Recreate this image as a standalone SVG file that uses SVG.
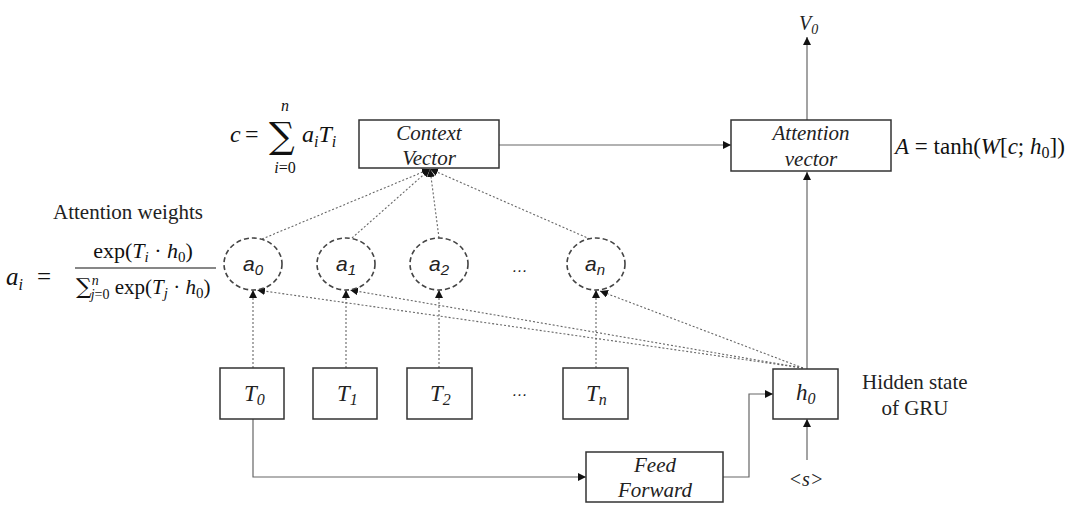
<svg xmlns="http://www.w3.org/2000/svg" width="1082" height="521" viewBox="0 0 1082 521">
<defs>
<marker id="arr" viewBox="0 0 10 10" refX="10" refY="5" markerWidth="8" markerHeight="8" markerUnits="userSpaceOnUse" orient="auto">
<path d="M0,0 L10,5 L0,10 z" fill="#111"/>
</marker>
</defs>
<style>
.box{fill:#fff;stroke:#333;stroke-width:1.5}
.circ{fill:#fff;stroke:#444;stroke-width:1.6;stroke-dasharray:5 3}
.solid{fill:none;stroke:#666;stroke-width:1.2}
.dot{fill:none;stroke:#666;stroke-width:1.1;stroke-dasharray:2 2}
.lbl{font-family:"Liberation Serif",serif;font-style:italic;fill:#222}
.sans{font-family:"Liberation Sans",sans-serif;font-style:italic;fill:#222}
.txt{font-family:"Liberation Serif",serif;fill:#222}
.math{font-family:"Liberation Serif",serif;fill:#111}
.sig{font-family:"DejaVu Serif",serif;font-style:normal}
</style>
<rect width="1082" height="521" fill="#fff"/>

<g id="connectors">
<line class="solid" x1="499" y1="145" x2="731" y2="145" marker-end="url(#arr)"/>
<line class="solid" x1="807" y1="120" x2="807" y2="37" marker-end="url(#arr)"/>
<line class="solid" x1="807" y1="369" x2="807" y2="172" marker-end="url(#arr)"/>
<line class="solid" x1="807" y1="460" x2="807" y2="419" marker-end="url(#arr)"/>
<path class="solid" d="M253,419 V477 H586" marker-end="url(#arr)"/>
<path class="solid" d="M723,477 H749 V394 H773" marker-end="url(#arr)"/>
<line class="dot" x1="253" y1="368" x2="253" y2="290" marker-end="url(#arr)"/>
<line class="dot" x1="346" y1="368" x2="346" y2="290" marker-end="url(#arr)"/>
<line class="dot" x1="439" y1="368" x2="439" y2="290" marker-end="url(#arr)"/>
<line class="dot" x1="596" y1="368" x2="596" y2="290" marker-end="url(#arr)"/>
<line class="dot" x1="803" y1="368" x2="257" y2="290" marker-end="url(#arr)"/>
<line class="dot" x1="803" y1="368" x2="350" y2="290" marker-end="url(#arr)"/>
<line class="dot" x1="803" y1="368" x2="600" y2="291" marker-end="url(#arr)"/>
<line class="dot" x1="262" y1="239" x2="430" y2="169" marker-end="url(#arr)"/>
<line class="dot" x1="352" y1="238" x2="430" y2="169" marker-end="url(#arr)"/>
<line class="dot" x1="439" y1="238" x2="430" y2="169" marker-end="url(#arr)"/>
<line class="dot" x1="590" y1="239" x2="430" y2="169" marker-end="url(#arr)"/>
</g>

<g id="context-vector">
<rect class="box" x="359" y="120" width="140" height="48"/>
<text class="lbl" x="429" y="140" text-anchor="middle" font-size="21">Context</text>
<text class="lbl" x="429" y="165" text-anchor="middle" font-size="21">Vector</text>
</g>
<g id="context-formula">
<text class="math" x="230" y="142" font-style="italic" font-size="24">c</text>
<text class="math" x="245" y="142" font-size="24">=</text>
<text class="math sig" x="269" y="148" font-size="36">∑</text>
<text class="math" x="285" y="111" font-style="italic" font-size="16" text-anchor="middle">n</text>
<text class="math" x="285" y="173" font-size="16" text-anchor="middle"><tspan font-style="italic">i</tspan>=0</text>
<text class="math" x="302" y="142" font-style="italic" font-size="24">a<tspan font-size="16" dy="5">i</tspan><tspan dy="-5">T</tspan><tspan font-size="16" dy="5">i</tspan></text>
</g>

<g id="attention-vector">
<rect class="box" x="731" y="120" width="160" height="51"/>
<text class="lbl" x="811" y="140" text-anchor="middle" font-size="21">Attention</text>
<text class="lbl" x="811" y="166" text-anchor="middle" font-size="21">vector</text>
</g>
<g id="attention-formula">
<text class="math" x="895" y="154" font-size="23"><tspan font-style="italic">A</tspan> = tanh(<tspan font-style="italic">W</tspan>[<tspan font-style="italic">c</tspan>; <tspan font-style="italic">h</tspan><tspan font-size="16" dy="4">0</tspan><tspan dy="-4">])</tspan></text>
</g>

<g id="v0">
<text class="lbl" x="799" y="30" font-size="20">V<tspan font-size="14" dy="4">0</tspan></text>
</g>

<g id="weights-label">
<text class="txt" x="53" y="219" font-size="21">Attention weights</text>
</g>
<g id="weights-formula">
<text class="math" x="6" y="285" font-size="25"><tspan font-style="italic">a</tspan><tspan font-style="italic" font-size="16" dy="5">i</tspan><tspan dy="-5" dx="14">=</tspan></text>
<text class="math" x="143" y="258" text-anchor="middle" font-size="22">exp(<tspan font-style="italic">T</tspan><tspan font-style="italic" font-size="15" dy="4">i</tspan><tspan dy="-4"> · </tspan><tspan font-style="italic">h</tspan><tspan font-size="15" dy="4">0</tspan><tspan dy="-4">)</tspan></text>
<line x1="75" y1="268" x2="216" y2="268" stroke="#111" stroke-width="1.2"/>
<text class="math" x="76" y="294" font-size="21"><tspan class="sig" font-size="22">∑</tspan><tspan font-style="italic" font-size="14" dy="-9">n</tspan><tspan font-size="14" dx="-8" dy="14"><tspan font-style="italic">j</tspan>=0</tspan><tspan dy="-5"> exp(</tspan><tspan font-style="italic">T</tspan><tspan font-style="italic" font-size="15" dy="4">j</tspan><tspan dy="-4"> · </tspan><tspan font-style="italic">h</tspan><tspan font-size="15" dy="4">0</tspan><tspan dy="-4">)</tspan></text>
</g>

<g id="a0"><ellipse class="circ" cx="253" cy="264" rx="29" ry="26"/><text class="sans" x="243" y="271" font-size="21">a<tspan font-size="15" dy="4">0</tspan></text></g>
<g id="a1"><ellipse class="circ" cx="346" cy="264" rx="29" ry="26"/><text class="sans" x="336" y="271" font-size="21">a<tspan font-size="15" dy="4">1</tspan></text></g>
<g id="a2"><ellipse class="circ" cx="439" cy="264" rx="29" ry="26"/><text class="sans" x="429" y="271" font-size="21">a<tspan font-size="15" dy="4">2</tspan></text></g>
<g id="a-dots"><text class="sans" x="520" y="272" text-anchor="middle" font-style="normal" font-size="16">…</text></g>
<g id="an"><ellipse class="circ" cx="596" cy="264" rx="29" ry="26"/><text class="sans" x="585" y="271" font-size="21">a<tspan font-size="15" dy="4">n</tspan></text></g>

<g id="T0"><rect class="box" x="220" y="368" width="64" height="51"/><text class="lbl" x="244" y="401" font-size="23">T<tspan font-size="16" dy="4">0</tspan></text></g>
<g id="T1"><rect class="box" x="313" y="368" width="64" height="51"/><text class="lbl" x="337" y="401" font-size="23">T<tspan font-size="16" dy="4">1</tspan></text></g>
<g id="T2"><rect class="box" x="407" y="368" width="65" height="51"/><text class="lbl" x="430" y="401" font-size="23">T<tspan font-size="16" dy="4">2</tspan></text></g>
<g id="T-dots"><text class="sans" x="520" y="396" text-anchor="middle" font-style="normal" font-size="16">…</text></g>
<g id="Tn"><rect class="box" x="563" y="368" width="65" height="51"/><text class="lbl" x="586" y="401" font-size="23">T<tspan font-size="16" dy="4">n</tspan></text></g>

<g id="h0"><rect class="box" x="773" y="369" width="65" height="50"/><text class="lbl" x="796" y="400" font-size="23">h<tspan font-size="16" dy="4">0</tspan></text></g>
<g id="h0-label">
<text class="txt" x="862" y="389" font-size="21">Hidden state</text>
<text class="txt" x="915" y="415" text-anchor="middle" font-size="21">of GRU</text>
</g>

<g id="feed-forward">
<rect class="box" x="586" y="452" width="137" height="50"/>
<text class="lbl" x="655" y="472" text-anchor="middle" font-size="21">Feed</text>
<text class="lbl" x="655" y="497" text-anchor="middle" font-size="21">Forward</text>
</g>

<g id="start-token"><text class="lbl" x="806" y="486" text-anchor="middle" font-size="20">&lt;s&gt;</text></g>
</svg>
